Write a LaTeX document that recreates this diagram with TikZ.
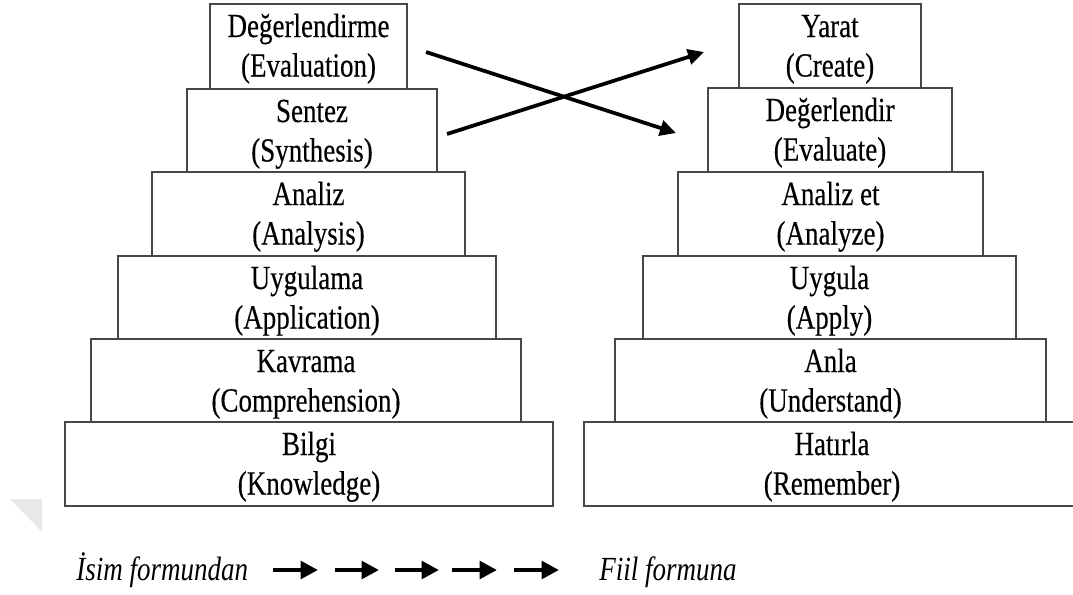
\documentclass[tikz,border=0pt]{standalone}
\usepackage{fontspec}
\setmainfont{Liberation Serif}
\newfontfamily\lblfont{Liberation Serif}[FakeBold=0.35]
\usetikzlibrary{arrows.meta}
\newcommand{\twol}[2]{\scalebox{1}[1.25]{\begin{tabular}[t]{@{}c@{}}#1\\#2\end{tabular}}}
\newcommand{\oneline}[1]{\scalebox{1}[1.25]{#1}}
\newcommand{\tier}[7]{%
  \node[tierbox, minimum width={(#4-#2)*0.75pt}, minimum height={(#5-#3)*0.75pt}] (#1) at ({(#2+#4)/2},{(#3+#5)/2}) {};
  \node[tierlbl] (#1t) at ([yshift=-33*0.75pt]#1.north) {\twol{#6}{#7}};
}
\begin{document}
\begin{tikzpicture}[x=0.75pt,y=-0.75pt,
  tierbox/.style={draw=black!72, line width=1.5pt, inner sep=0pt, outer sep=0pt, fill=white},
  tierlbl/.style={anchor=base, inner sep=0pt, font=\lblfont\fontsize{20.25pt}{23.7pt}\selectfont},
  foot/.style={anchor=base west, inner sep=0pt, font=\fontsize{20.25pt}{24pt}\selectfont\itshape},
  cross/.style={line width=2.8pt, -{Triangle[length=12pt,width=11.5pt]}},
  step arrow/.style={line width=3.5pt, -{Triangle[length=13pt,width=13pt]}}]
\useasboundingbox (0,0) rectangle (1073,594);
\clip (0,0) rectangle (1073,594);
% faint watermark triangle
\fill[black!9] (10,499) -- (42,499) -- (42,532) -- cycle;
% left pyramid
\tier{bilgi}{65}{422}{553}{506}{Bilgi}{(Knowledge)}
\tier{kavrama}{91}{339}{521}{422}{Kavrama}{(Comprehension)}
\tier{uygulama}{118}{256}{496}{339}{Uygulama}{(Application)}
\tier{analiz}{152}{172}{465}{256}{Analiz}{(Analysis)}
\tier{sentez}{187}{89}{437}{172}{Sentez}{(Synthesis)}
\tier{degerl}{210}{4}{407}{89}{Değerlendirme}{(Evaluation)}
% right pyramid
\tier{hatirla}{584}{422}{1080}{506}{Hatırla}{(Remember)}
\tier{anla}{615}{339}{1046}{422}{Anla}{(Understand)}
\tier{uygula}{643}{256}{1016}{339}{Uygula}{(Apply)}
\tier{analizet}{678}{172}{983}{256}{Analiz et}{(Analyze)}
\tier{degerlr}{708}{88}{952}{172}{Değerlendir}{(Evaluate)}
\tier{yarat}{739}{4}{921}{88}{Yarat}{(Create)}
% crossing arrows
\coordinate (evs) at (426,52);
\coordinate (eve) at (676,133);
\coordinate (sys) at (447,134);
\coordinate (sye) at (704,52);
\draw[cross] (evs) -- (eve);
\draw[cross] (sys) -- (sye);
% bottom line
\node[foot] (isim) at (76,580) {\oneline{İsim formundan}};
\node[foot] (fiil) at (599,580) {\oneline{Fiil formuna}};
\coordinate (p1s) at (273,570); \coordinate (p1e) at (318,570);
\coordinate (p2s) at (335,570); \coordinate (p2e) at (379,570);
\coordinate (p3s) at (395,570); \coordinate (p3e) at (439,570);
\coordinate (p4s) at (452,570); \coordinate (p4e) at (497,570);
\coordinate (p5s) at (514,570); \coordinate (p5e) at (559,570);
\draw[step arrow] (p1s) -- (p1e);
\draw[step arrow] (p2s) -- (p2e);
\draw[step arrow] (p3s) -- (p3e);
\draw[step arrow] (p4s) -- (p4e);
\draw[step arrow] (p5s) -- (p5e);
\end{tikzpicture}
\end{document}
